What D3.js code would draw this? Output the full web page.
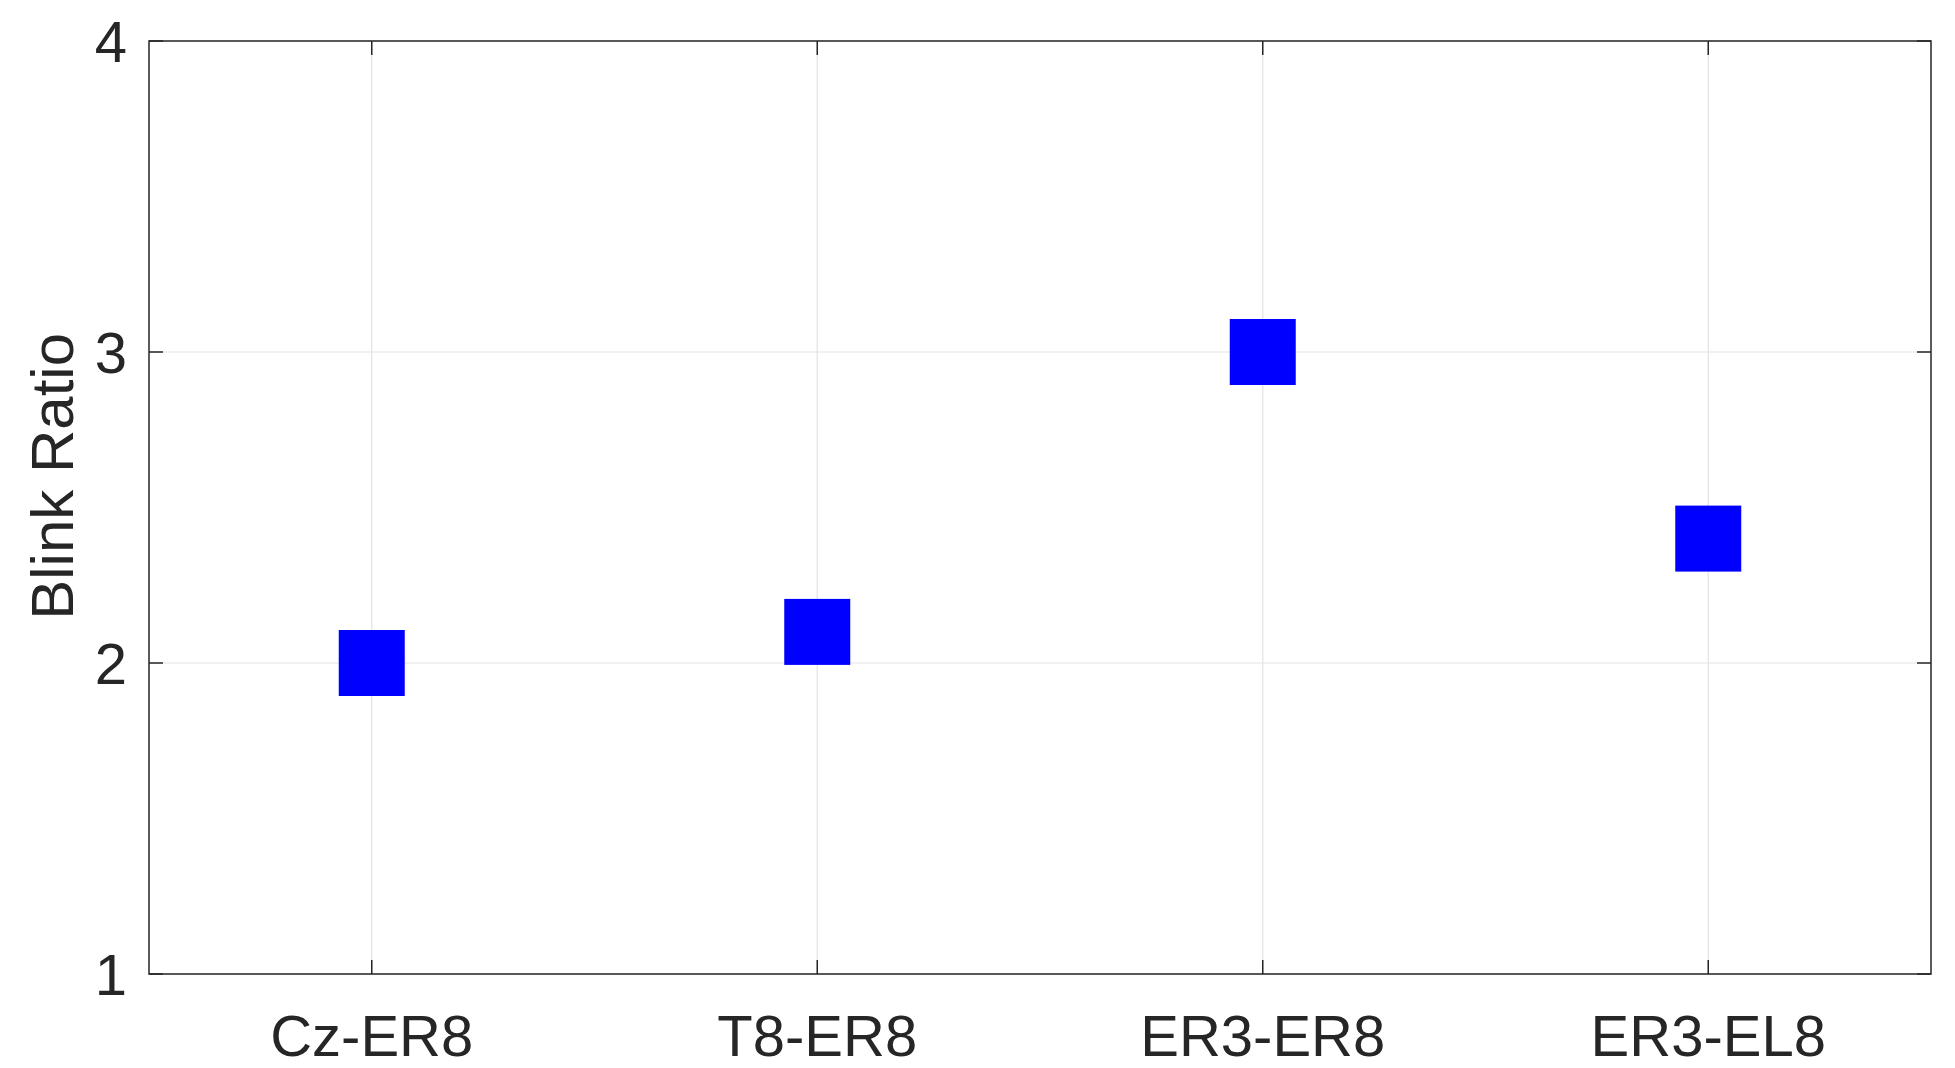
<!DOCTYPE html>
<html>
<head>
<meta charset="utf-8">
<script src="https://cdn.jsdelivr.net/npm/d3@7"></script>
<style>
  body { margin: 0; background: #fff; }
  text { font-family: "Liberation Sans", Arial, sans-serif; fill: #262626; }
</style>
</head>
<body>
<svg width="1955" height="1068"></svg>
<script>
// channel pairs and their blink ratios
const pairs = ['Cz-ER8', 'T8-ER8', 'ER3-ER8', 'ER3-EL8']
const ratios = [2.0, 2.1, 3.0, 2.4]
const yTicks = [1, 2, 3, 4]

const svg = d3.select('svg')
const m = { left: 149, right: 24, top: 41, bottom: 94 }
const w = 1955 - m.left - m.right
const h = 1068 - m.top - m.bottom
const g = svg.append('g').attr('transform', `translate(${m.left},${m.top})`)

const x = d3.scalePoint().domain(pairs).range([0, w]).padding(0.5)
const y = d3.scaleLinear().domain([1, 4]).range([h, 0])

// grid
g.selectAll('.vgrid').data(pairs).join('line')
  .attr('x1', d => x(d)).attr('x2', d => x(d)).attr('y1', 0).attr('y2', h)
  .attr('stroke', '#e3e3e3').attr('stroke-width', 1.2)
g.selectAll('.hgrid').data(yTicks).join('line')
  .attr('y1', d => y(d)).attr('y2', d => y(d)).attr('x1', 0).attr('x2', w)
  .attr('stroke', '#e3e3e3').attr('stroke-width', 1.2)

// box
g.append('rect').attr('width', w).attr('height', h)
  .attr('fill', 'none').attr('stroke', '#262626').attr('stroke-width', 1.5)

// ticks (inside, both sides)
const tk = 14
g.selectAll('.xt').data(pairs).join('path')
  .attr('d', d => `M${x(d)},${h}v${-tk}M${x(d)},0v${tk}`)
  .attr('stroke', '#262626').attr('stroke-width', 1.5)
g.selectAll('.yt').data(yTicks).join('path')
  .attr('d', d => `M0,${y(d)}h${tk}M${w},${y(d)}h${-tk}`)
  .attr('stroke', '#262626').attr('stroke-width', 1.5)

// tick labels
g.selectAll('.xl').data(pairs).join('text')
  .attr('x', d => x(d)).attr('y', h + 82)
  .attr('text-anchor', 'middle').attr('font-size', 58).text(d => d)
g.selectAll('.yl').data(yTicks).join('text')
  .attr('x', -22).attr('y', d => y(d)).attr('dy', '0.36em')
  .attr('text-anchor', 'end').attr('font-size', 58).text(d => d)

// axis label
svg.append('text')
  .attr('transform', `translate(73,${m.top + y(2.6)}) rotate(-90)`)
  .attr('text-anchor', 'middle').attr('font-size', 60).text('Blink Ratio')

// square markers
const s = 66
g.selectAll('.pt').data(ratios).join('rect')
  .attr('x', (d, i) => x(pairs[i]) - s / 2)
  .attr('y', d => y(d) - s / 2)
  .attr('width', s).attr('height', s)
  .attr('fill', '#0000ff')
</script>
</body>
</html>
